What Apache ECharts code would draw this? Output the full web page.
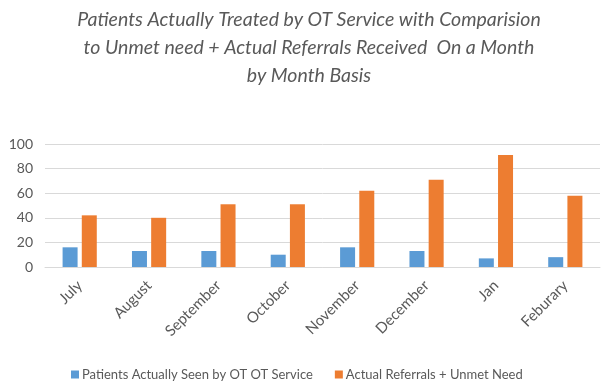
<!DOCTYPE html>
<html>
<head>
<meta charset="utf-8">
<script src="https://cdn.jsdelivr.net/npm/echarts@6/dist/echarts.min.js"></script>
<style>
  html, body { margin: 0; padding: 0; background: #fff; }
  #chart { width: 608px; height: 392px; }
</style>
</head>
<body>
<div id="chart"></div>
<script>
var months = ['July', 'August', 'September', 'October', 'November', 'December', 'Jan', 'Feburary'];
var seenByOT = [16, 13, 13, 10, 16, 13, 7, 8];
var referralsUnmet = [42, 40, 51, 51, 62, 71, 91, 58];
var yTicks = [0, 20, 40, 60, 80, 100];

var chart = echarts.init(document.getElementById('chart'));
chart.setOption({
    animation: false,
    title: {
        text: 'Patients Actually Treated by OT Service with Comparision\nto Unmet need + Actual Referrals Received  On a Month\nby Month Basis',
        left: 304,
        textAlign: 'center',
        top: 1,
        textStyle: {
            fontFamily: 'Lato',
            fontStyle: 'italic',
            fontWeight: 'normal',
            fontSize: 19.5,
            lineHeight: 28,
            color: '#595959'
        }
    },
    grid: {
        left: 45,
        right: 8,
        top: 144,
        bottom: 125
    },
    legend: {
        top: 363,
        left: 66,
        itemWidth: 8,
        itemHeight: 8,
        itemGap: 22,
        icon: 'rect',
        textStyle: { fontFamily: 'Lato', fontSize: 13, color: '#595959', padding: [0, 0, 0, -2] },
        data: ['Patients Actually Seen by OT OT Service', 'Actual Referrals + Unmet Need']
    },
    xAxis: {
        type: 'category',
        data: months,
        axisTick: { show: false },
        axisLine: { lineStyle: { color: '#d9d9d9' } },
        axisLabel: {
            rotate: 45,
            margin: 16,
            fontFamily: 'Lato',
            fontSize: 15,
            color: '#595959'
        }
    },
    yAxis: {
        type: 'value',
        min: yTicks[0],
        max: yTicks[yTicks.length - 1],
        interval: 20,
        axisLine: { show: false },
        axisTick: { show: false },
        axisLabel: { fontFamily: 'Lato', fontSize: 14, color: '#595959', margin: 12 },
        splitLine: { lineStyle: { color: '#d9d9d9' } }
    },
    series: [{
        name: 'Patients Actually Seen by OT OT Service',
        type: 'bar',
        data: seenByOT,
        barWidth: 15,
        barGap: '28%',
        itemStyle: { color: '#5B9BD5' }
    }, {
        name: 'Actual Referrals + Unmet Need',
        type: 'bar',
        data: referralsUnmet,
        barWidth: 15,
        itemStyle: { color: '#ED7D31' }
    }]
});
</script>
</body>
</html>
